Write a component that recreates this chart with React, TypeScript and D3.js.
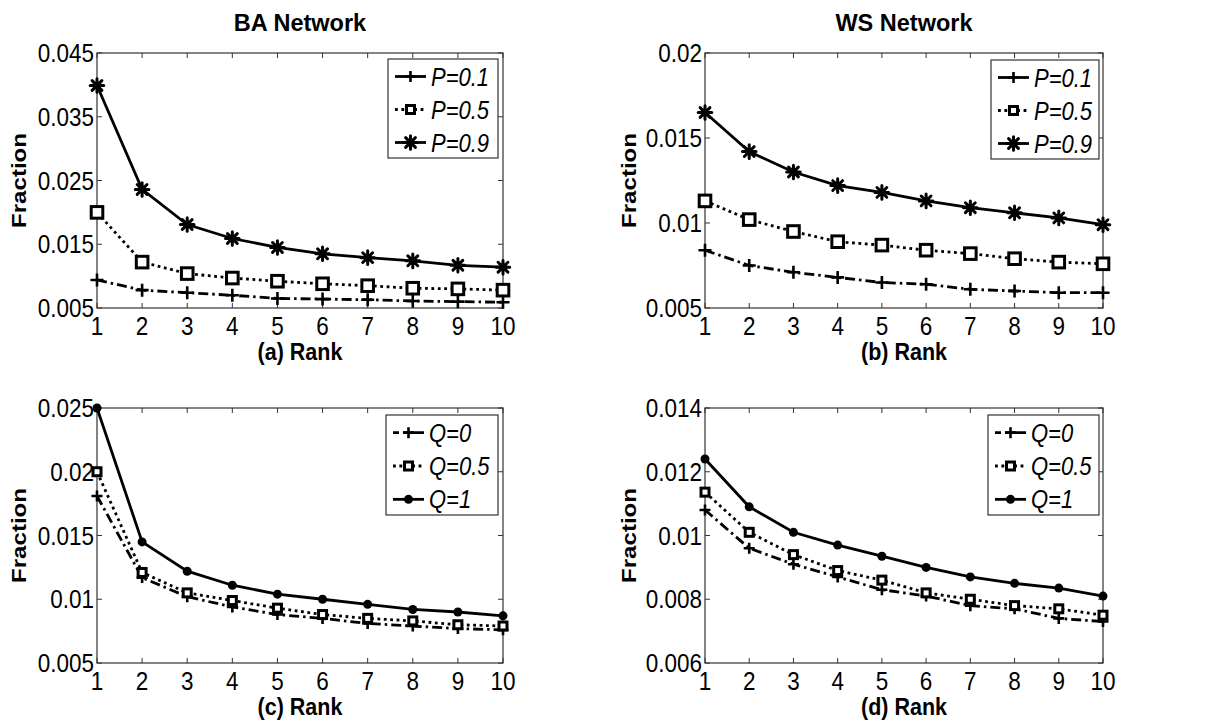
import * as d3 from "d3";

const ranks = [1, 2, 3, 4, 5, 6, 7, 8, 9, 10];

// (a) BA network, varying P
const baP01 = [0.0094, 0.0078, 0.0074, 0.007, 0.0065, 0.0064, 0.0063, 0.0061, 0.006, 0.0059];
const baP05 = [0.02, 0.0122, 0.0104, 0.0097, 0.0092, 0.0088, 0.0085, 0.0081, 0.008, 0.0078];
const baP09 = [0.0399, 0.0236, 0.0181, 0.0159, 0.0145, 0.0135, 0.0129, 0.0124, 0.0117, 0.0114];

// (b) WS network, varying P
const wsP01 = [0.0084, 0.0075, 0.0071, 0.0068, 0.0065, 0.0064, 0.0061, 0.006, 0.0059, 0.0059];
const wsP05 = [0.0113, 0.0102, 0.0095, 0.0089, 0.0087, 0.0084, 0.0082, 0.0079, 0.0077, 0.0076];
const wsP09 = [0.0165, 0.0142, 0.013, 0.0122, 0.0118, 0.0113, 0.0109, 0.0106, 0.0103, 0.0099];

// (c) BA network, varying Q
const baQ0 = [0.0181, 0.0117, 0.0102, 0.0094, 0.0088, 0.0085, 0.0081, 0.0079, 0.0077, 0.0076];
const baQ05 = [0.02, 0.0121, 0.0105, 0.0099, 0.0093, 0.0088, 0.0085, 0.0083, 0.008, 0.0079];
const baQ1 = [0.025, 0.0145, 0.0122, 0.0111, 0.0104, 0.01, 0.0096, 0.0092, 0.009, 0.0087];

// (d) WS network, varying Q
const wsQ0 = [0.0108, 0.0096, 0.0091, 0.0087, 0.0083, 0.0081, 0.0078, 0.0077, 0.0074, 0.0073];
const wsQ05 = [0.01136, 0.0101, 0.0094, 0.0089, 0.0086, 0.0082, 0.008, 0.0078, 0.0077, 0.0075];
const wsQ1 = [0.0124, 0.0109, 0.0101, 0.0097, 0.00935, 0.009, 0.0087, 0.0085, 0.00835, 0.0081];

const ticksA = [0.005, 0.015, 0.025, 0.035, 0.045];
const ticksB = [0.005, 0.01, 0.015, 0.02];
const ticksC = [0.005, 0.01, 0.015, 0.02, 0.025];
const ticksD = [0.006, 0.008, 0.01, 0.012, 0.014];

const labelsP = ["P=0.1", "P=0.5", "P=0.9"];
const labelsQ = ["Q=0", "Q=0.5", "Q=1"];

type Marker = "plus" | "square" | "star" | "dot";
type Series = { values: number[]; label: string; dash: string; legendDash: string; marker: Marker };

const FONT = "Arial, 'Liberation Sans', sans-serif";
const STRETCH = 1.15; // the source text looks vertically stretched
const LW = 2.8;

function MarkerShape({ kind, x, y, small }: { kind: Marker; x: number; y: number; small: boolean }) {
  if (kind === "plus") {
    const s = small ? 5.5 : 6.5;
    return (
      <path d={`M${x - s},${y}H${x + s}M${x},${y - s}V${y + s}`} stroke="#000" strokeWidth={2.6} fill="none" />
    );
  }
  if (kind === "square") {
    const s = small ? 4 : 5.8;
    return <rect x={x - s} y={y - s} width={2 * s} height={2 * s} fill="#fff" stroke="#000" strokeWidth={3} />;
  }
  if (kind === "star") {
    // matlab-style asterisk: plus + cross, drawn thick
    const s = 6.8;
    const d = s * 0.72;
    return (
      <g stroke="#000" strokeWidth={3} strokeLinecap="round">
        <path d={`M${x - s},${y}H${x + s}M${x},${y - s}V${y + s}`} />
        <path d={`M${x - d},${y - d}L${x + d},${y + d}M${x - d},${y + d}L${x + d},${y - d}`} />
        <circle cx={x} cy={y} r={4} fill="#000" stroke="none" />
      </g>
    );
  }
  return <circle cx={x} cy={y} r={4.5} fill="#000" />;
}

type PanelProps = {
  left: number;
  right: number;
  top: number;
  bottom: number;
  domain: [number, number];
  ticks: number[];
  tickFmt: (v: number) => string;
  series: Series[];
  xLabel: string;
  title?: string;
  legend: { x0: number; x1: number; y0: number; y1: number };
  small: boolean;
  yLabelX: number;
};

function Panel(p: PanelProps) {
  const x = d3.scaleLinear().domain([1, 10]).range([p.left, p.right]);
  const y = d3.scaleLinear().domain(p.domain).range([p.bottom, p.top]);
  const line = d3
    .line<number>()
    .x((_, i) => x(ranks[i]))
    .y((d) => y(d));
  const tk = 5;
  const lg = p.legend;
  const rowH = (lg.y1 - lg.y0) / 3;
  return (
    <g>
      {p.title && (
        <text x={(p.left + p.right) / 2} y={p.top - 22} textAnchor="middle" fontSize={23.5} fontWeight="bold" fontFamily={FONT}>
          {p.title}
        </text>
      )}
      {/* frame with inward ticks */}
      <rect x={p.left} y={p.top} width={p.right - p.left} height={p.bottom - p.top} fill="#fff" stroke="#333" strokeWidth={1.2} />
      {ranks.map((r) => (
        <g key={"xt" + r}>
          <line x1={x(r)} x2={x(r)} y1={p.bottom} y2={p.bottom - tk} stroke="#333" />
          <line x1={x(r)} x2={x(r)} y1={p.top} y2={p.top + tk} stroke="#333" />
          <text
            transform={`translate(${x(r)},${p.bottom + 27}) scale(1,${STRETCH})`}
            textAnchor="middle"
            fontSize={22.5}
            fontFamily={FONT}
          >
            {r}
          </text>
        </g>
      ))}
      {p.ticks.map((t) => (
        <g key={"yt" + t}>
          <line x1={p.left} x2={p.left + tk} y1={y(t)} y2={y(t)} stroke="#333" />
          <line x1={p.right} x2={p.right - tk} y1={y(t)} y2={y(t)} stroke="#333" />
          <text
            transform={`translate(${p.left - 3},${y(t) + 9}) scale(1,${STRETCH})`}
            textAnchor="end"
            fontSize={22.5}
            fontFamily={FONT}
          >
            {p.tickFmt(t)}
          </text>
        </g>
      ))}
      <text
        transform={`translate(${(p.left + p.right) / 2},${p.bottom + 52}) scale(1,${STRETCH})`}
        textAnchor="middle"
        fontSize={21.5}
        fontWeight="bold"
        fontFamily={FONT}
      >
        {p.xLabel}
      </text>
      <text
        transform={`translate(${p.yLabelX},${(p.top + p.bottom) / 2}) rotate(-90) scale(${STRETCH},1)`}
        textAnchor="middle"
        fontSize={21}
        fontWeight="bold"
        fontFamily={FONT}
      >
        Fraction
      </text>
      {p.series.map((s) => (
        <g key={s.label}>
          <path d={line(s.values) ?? ""} fill="none" stroke="#000" strokeWidth={LW} strokeDasharray={s.dash} />
          {s.values.map((v, i) => (
            <MarkerShape key={i} kind={s.marker} x={x(ranks[i])} y={y(v)} small={p.small} />
          ))}
        </g>
      ))}
      {/* legend */}
      <rect x={lg.x0} y={lg.y0} width={lg.x1 - lg.x0} height={lg.y1 - lg.y0} fill="#fff" stroke="#333" strokeWidth={1.2} />
      {p.series.map((s, i) => {
        const cy = lg.y0 + rowH * (i + 0.5) + 1;
        const lx0 = lg.x0 + 7;
        const lx1 = lg.x0 + 38;
        return (
          <g key={"lg" + s.label}>
            <line x1={lx0} x2={lx1} y1={cy} y2={cy} stroke="#000" strokeWidth={LW} strokeDasharray={s.legendDash} />
            <MarkerShape kind={s.marker} x={(lx0 + lx1) / 2} y={cy} small={true} />
            <text
              transform={`translate(${lx1 + 5},${cy + 9}) scale(1,${STRETCH})`}
              fontSize={22}
              fontStyle="italic"
              fontFamily={FONT}
            >
              {s.label}
            </text>
          </g>
        );
      })}
    </g>
  );
}

const DASHDOT = "10,4,2.5,4";
const DOT = "2.8,3.6";

export default function App() {
  const fmt = (v: number) => String(+v.toFixed(3));
  return (
    <div style={{ position: "absolute", left: 0, top: 0 }}>
      <svg width={1211} height={722} style={{ display: "block", background: "#fff" }}>
        <Panel
          left={97}
          right={503}
          top={53}
          bottom={308}
          domain={[0.005, 0.045]}
          ticks={ticksA}
          tickFmt={fmt}
          title="BA Network"
          xLabel="(a) Rank"
          small={false}
          yLabelX={26}
          legend={{ x0: 388, x1: 498, y0: 59, y1: 158 }}
          series={[
            { values: baP01, label: labelsP[0], dash: DASHDOT, legendDash: "", marker: "plus" },
            { values: baP05, label: labelsP[1], dash: DOT, legendDash: DOT, marker: "square" },
            { values: baP09, label: labelsP[2], dash: "", legendDash: "", marker: "star" },
          ]}
        />
        <Panel
          left={705}
          right={1103}
          top={53}
          bottom={308}
          domain={[0.005, 0.02]}
          ticks={ticksB}
          tickFmt={fmt}
          title="WS Network"
          xLabel="(b) Rank"
          small={false}
          yLabelX={636}
          legend={{ x0: 991, x1: 1099, y0: 60, y1: 159 }}
          series={[
            { values: wsP01, label: labelsP[0], dash: DASHDOT, legendDash: "", marker: "plus" },
            { values: wsP05, label: labelsP[1], dash: DOT, legendDash: DOT, marker: "square" },
            { values: wsP09, label: labelsP[2], dash: "", legendDash: "", marker: "star" },
          ]}
        />
        <Panel
          left={97}
          right={503}
          top={408}
          bottom={663}
          domain={[0.005, 0.025]}
          ticks={ticksC}
          tickFmt={fmt}
          xLabel="(c) Rank"
          small={true}
          yLabelX={26}
          legend={{ x0: 386, x1: 498, y0: 415, y1: 515 }}
          series={[
            { values: baQ0, label: labelsQ[0], dash: DASHDOT, legendDash: "6,4,40", marker: "plus" },
            { values: baQ05, label: labelsQ[1], dash: DOT, legendDash: DOT, marker: "square" },
            { values: baQ1, label: labelsQ[2], dash: "", legendDash: "", marker: "dot" },
          ]}
        />
        <Panel
          left={705}
          right={1103}
          top={408}
          bottom={663}
          domain={[0.006, 0.014]}
          ticks={ticksD}
          tickFmt={fmt}
          xLabel="(d) Rank"
          small={true}
          yLabelX={636}
          legend={{ x0: 988, x1: 1099, y0: 415, y1: 515 }}
          series={[
            { values: wsQ0, label: labelsQ[0], dash: DASHDOT, legendDash: "6,4,40", marker: "plus" },
            { values: wsQ05, label: labelsQ[1], dash: DOT, legendDash: DOT, marker: "square" },
            { values: wsQ1, label: labelsQ[2], dash: "", legendDash: "", marker: "dot" },
          ]}
        />
      </svg>
    </div>
  );
}
